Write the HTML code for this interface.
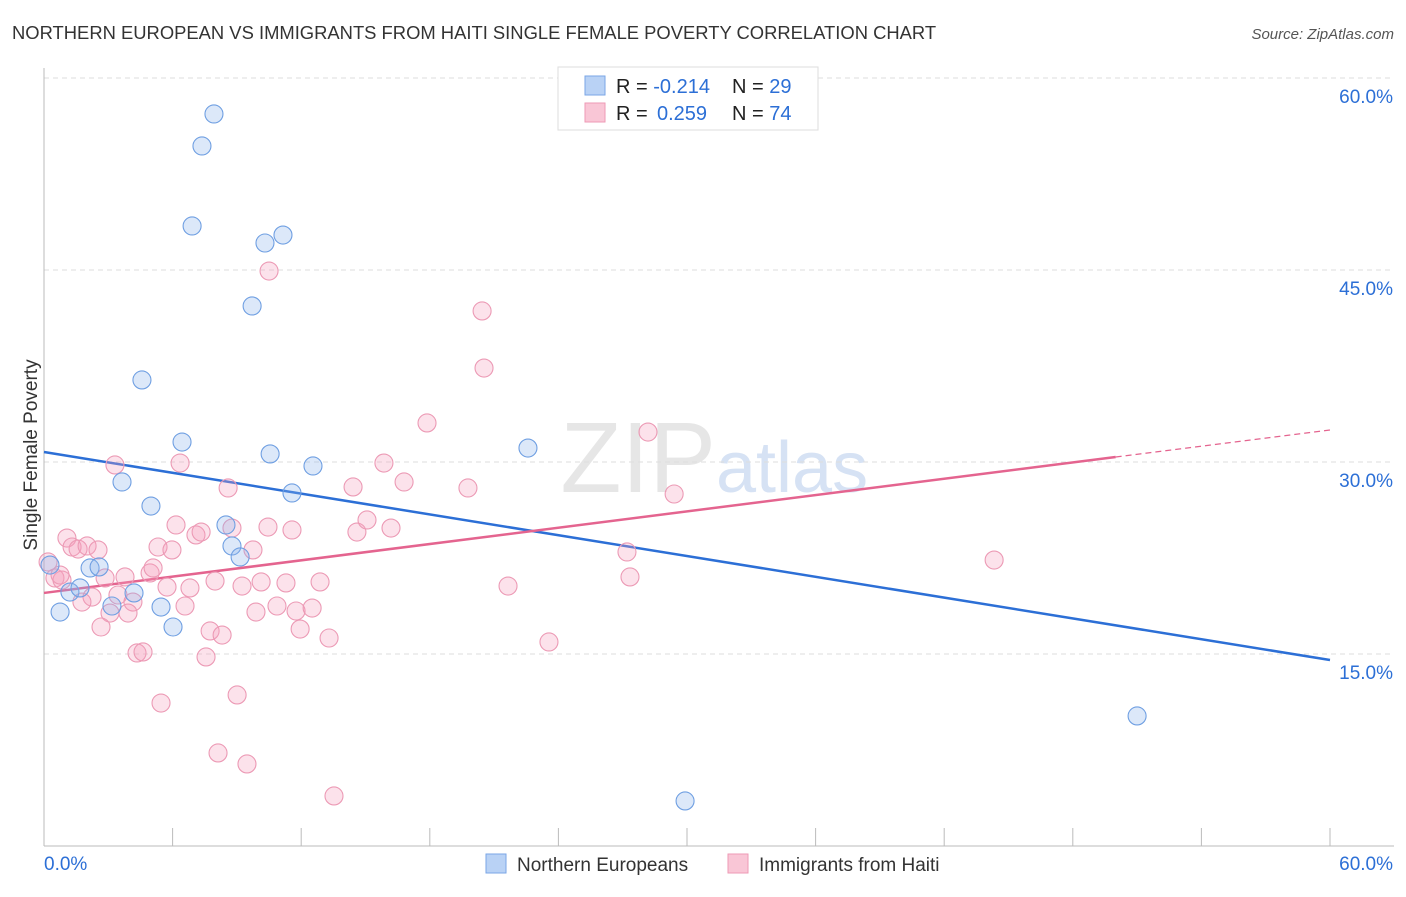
<!DOCTYPE html>
<html><head><meta charset="utf-8">
<style>
body{margin:0;background:#fff;font-family:"Liberation Sans",sans-serif;}
svg text{font-family:"Liberation Sans",sans-serif;}
</style></head>
<body>
<svg id="chart" width="1406" height="892" viewBox="0 0 1406 892">
<text x="12" y="39" font-size="18.4" fill="#333">NORTHERN EUROPEAN VS IMMIGRANTS FROM HAITI SINGLE FEMALE POVERTY CORRELATION CHART</text>
<text x="1394" y="39" font-size="15" fill="#555" font-style="italic" text-anchor="end">Source: ZipAtlas.com</text>
<text x="716" y="492" font-size="100" fill="#e6e6e6" text-anchor="end" font-family="Liberation Serif">ZIP</text>
<text x="716" y="492" font-size="72" fill="#d6e2f4">atlas</text>
<g id="grid"></g>
<g id="axes"></g>
<line id="blueLine" stroke="#2c6fd6" stroke-width="2.5"/>
<line id="pinkLine" stroke="#e4648f" stroke-width="2.5"/>
<line id="pinkDash" stroke="#e4648f" stroke-width="1.2" stroke-dasharray="6,4"/>
<g id="pts"></g>
<text x="30" y="462" font-size="19" fill="#333" text-anchor="middle" transform="rotate(-90 30 455)">Single Female Poverty</text>
<g>
<rect x="558" y="67" width="260" height="63" fill="#fff" stroke="#ddd"/>
<rect x="585" y="76" width="20" height="19" fill="#b9d2f5" stroke="#7aa6e6"/>
<rect x="585" y="103" width="20" height="19" fill="#f9c6d6" stroke="#ee9ab5"/>
<text x="616" y="93" font-size="20" fill="#222">R = <tspan fill="#2c6fd6">-0.214</tspan><tspan x="732">N = </tspan><tspan fill="#2c6fd6">29</tspan></text>
<text x="616" y="120" font-size="20" fill="#222">R = <tspan x="657" fill="#2c6fd6">0.259</tspan><tspan x="732">N = </tspan><tspan fill="#2c6fd6">74</tspan></text>
</g>
<g>
<rect x="486" y="854" width="20" height="19" fill="#b9d2f5" stroke="#7aa6e6"/>
<text x="517" y="871" font-size="19" fill="#333">Northern Europeans</text>
<rect x="728" y="854" width="20" height="19" fill="#f9c6d6" stroke="#ee9ab5"/>
<text x="759" y="871" font-size="19" fill="#333">Immigrants from Haiti</text>
</g>
</svg>
<script>
const blueX=[0.28,0.75,1.21,1.68,2.15,2.57,3.17,3.64,4.2,4.57,4.99,5.46,6.02,6.44,6.91,7.37,7.93,8.49,8.77,9.15,9.71,10.31,10.55,11.15,11.57,12.55,22.58,29.91,51.0];
const blueY=[21.95,18.28,19.84,20.16,21.72,21.8,18.75,28.44,19.77,36.41,26.56,18.67,17.11,31.56,48.44,54.69,57.19,25.08,23.44,22.58,42.19,47.11,30.63,47.73,27.58,29.69,31.09,3.52,10.16];
const pinkX=[1.07,1.31,1.59,2.01,0.19,0.51,0.84,2.24,1.77,2.85,3.78,3.45,4.15,3.08,3.92,2.66,4.95,5.09,5.32,5.97,6.16,7.09,7.33,8.77,9.75,10.45,11.57,14.6,15.07,5.74,6.81,6.58,7.98,9.24,10.13,11.29,12.88,9.89,10.87,11.76,12.51,7.75,8.31,11.95,13.3,4.34,4.62,7.56,5.46,9.01,10.5,20.44,20.53,17.87,28.18,15.86,6.35,3.31,16.8,14.42,19.78,8.59,29.4,16.19,27.2,27.34,44.33,21.65,23.56,8.12,9.47,13.53,0.75,2.52];
const pinkY=[24.06,23.36,23.2,23.44,22.19,20.94,20.78,19.45,19.06,20.94,21.02,19.61,19.06,18.2,18.2,17.11,21.33,21.72,23.36,23.13,25.08,24.3,24.53,24.84,23.13,24.92,24.69,24.53,25.47,20.23,20.16,18.75,20.7,20.31,20.63,20.55,20.63,18.28,18.75,18.36,18.59,16.8,16.48,16.95,16.25,15.08,15.16,14.77,11.17,11.8,44.92,41.8,37.34,33.05,32.34,29.92,29.92,29.77,28.44,28.05,27.97,27.97,27.5,24.84,22.97,21.02,22.34,20.31,15.94,7.27,6.41,3.91,21.17,23.13];
const blueTrend=[30.78,14.53];
const pinkTrend=[19.77,30.39,32.5];
const pinkSolidEnd=50;
const yTicks=[15,30,45,60];
const yTickLabels=["15.0%","30.0%","45.0%","60.0%"];
const xTicks=[0,6,12,18,24,30,36,42,48,54,60];

const X0=44,X1=1330,Y0=846,Y1=78;
const sx=v=>X0+(v/60)*(X1-X0);
const sy=v=>Y0-(v/60)*(Y0-Y1);
const NS="http://www.w3.org/2000/svg";
function mk(tag,attrs,parent){const e=document.createElementNS(NS,tag);for(const k in attrs)e.setAttribute(k,attrs[k]);parent.appendChild(e);return e;}
const grid=document.getElementById('grid'),axes=document.getElementById('axes'),pts=document.getElementById('pts');
yTicks.forEach((t,i)=>{
  const g=mk('line',{x1:X0,x2:1394,y1:sy(t),y2:sy(t),stroke:'#ddd','stroke-dasharray':'5,4'},grid);
  
  
  const l=mk('text',{x:1393,y:sy(t)+25,'font-size':19,fill:'#2c6fd6','text-anchor':'end'},axes);
  l.textContent=yTickLabels[i];
  
  
});
const ya=mk('line',{x1:X0,x2:X0,y1:68,y2:Y0,stroke:'#bbb'},axes);


const xa=mk('line',{x1:X0,x2:1394,y1:Y0,y2:Y0,stroke:'#bbb'},axes);


xTicks.forEach(t=>{
  const tk=mk('line',{x1:sx(t),x2:sx(t),y1:828,y2:Y0,stroke:'#bbb'},axes);
  
  
});
const xl0=mk('text',{x:44,y:870,'font-size':19,fill:'#2c6fd6'},axes);xl0.textContent='0.0%';


const xl1=mk('text',{x:1393,y:870,'font-size':19,fill:'#2c6fd6','text-anchor':'end'},axes);xl1.textContent='60.0%';



pinkX.forEach((x,i)=>{
  const c=mk('circle',{cx:sx(x),cy:sy(pinkY[i]),r:9,fill:'rgba(244,160,188,0.3)',stroke:'#ec9ab5','stroke-width':1.1},pts);
  
  
});
blueX.forEach((x,i)=>{
  const c=mk('circle',{cx:sx(x),cy:sy(blueY[i]),r:9,fill:'rgba(140,180,236,0.3)',stroke:'#6f9fe2','stroke-width':1.1},pts);
  
  
});
const bl=document.getElementById('blueLine');
bl.setAttribute('x1',sx(0));bl.setAttribute('y1',sy(blueTrend[0]));bl.setAttribute('x2',sx(60));bl.setAttribute('y2',sy(blueTrend[1]));
const pl=document.getElementById('pinkLine');
pl.setAttribute('x1',sx(0));pl.setAttribute('y1',sy(pinkTrend[0]));pl.setAttribute('x2',sx(pinkSolidEnd));pl.setAttribute('y2',sy(pinkTrend[1]));
const pd=document.getElementById('pinkDash');
pd.setAttribute('x1',sx(pinkSolidEnd));pd.setAttribute('y1',sy(pinkTrend[1]));pd.setAttribute('x2',sx(60));pd.setAttribute('y2',sy(pinkTrend[2]));
</script>
</body></html>
